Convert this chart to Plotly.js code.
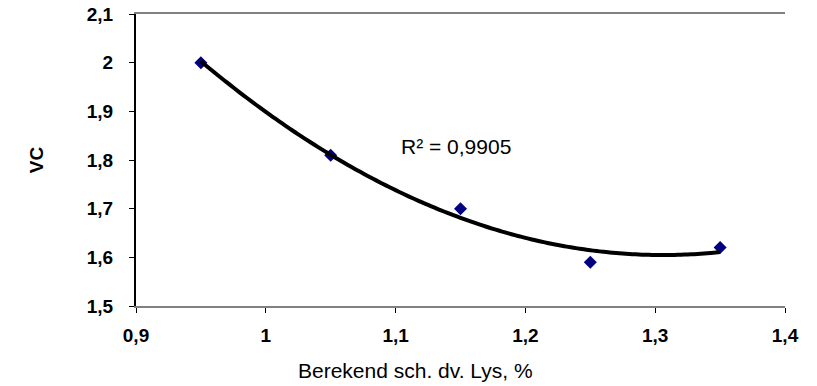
<!DOCTYPE html>
<html>
<head>
<meta charset="utf-8">
<script src="https://cdn.plot.ly/plotly-3.0.1.min.js"></script>
<style>
  html, body { margin: 0; padding: 0; background: #fff; }
  #chart { width: 817px; height: 386px; }
</style>
</head>
<body>
<div id="chart"></div>
<script>
// Measured points
const lysPct = [0.95, 1.05, 1.15, 1.25, 1.35];
const vcValues = [2.00, 1.81, 1.70, 1.59, 1.62];
const r2Label = 'R² = 0,9905';
const xTitle = 'Berekend sch. dv. Lys, %';
const yTitle = 'VC';

// Second-order least-squares trend line through the measured points
function quadFit(xs, ys) {
  let s = [0, 0, 0, 0, 0], t = [0, 0, 0];
  for (let i = 0; i < xs.length; i++) {
    let p = 1;
    for (let k = 0; k < 5; k++) { s[k] += p; if (k < 3) t[k] += p * ys[i]; p *= xs[i]; }
  }
  const M = [[s[0], s[1], s[2], t[0]], [s[1], s[2], s[3], t[1]], [s[2], s[3], s[4], t[2]]];
  for (let c = 0; c < 3; c++) {
    for (let r = c + 1; r < 3; r++) {
      const f = M[r][c] / M[c][c];
      for (let k = c; k < 4; k++) M[r][k] -= f * M[c][k];
    }
  }
  const coef = [0, 0, 0];
  for (let r = 2; r >= 0; r--) {
    let v = M[r][3];
    for (let k = r + 1; k < 3; k++) v -= M[r][k] * coef[k];
    coef[r] = v / M[r][r];
  }
  return coef;
}
const coef = quadFit(lysPct, vcValues);
const trendX = [], trendY = [];
const x0 = lysPct[0], x1 = lysPct[lysPct.length - 1];
for (let i = 0; i <= 80; i++) {
  const x = x0 + (x1 - x0) * i / 80;
  trendX.push(x);
  trendY.push(coef[0] + coef[1] * x + coef[2] * x * x);
}

const font = 'Liberation Sans, Arial, sans-serif';

const traces = [
  {
    x: lysPct, y: vcValues, type: 'scatter', mode: 'markers',
    marker: { symbol: 'diamond', size: 10, color: '#000080' },
    hoverinfo: 'x+y'
  },
  {
    x: trendX, y: trendY, type: 'scatter', mode: 'lines',
    line: { color: '#000000', width: 4, shape: 'spline' },
    hoverinfo: 'skip'
  }
];

const layout = {
  width: 817, height: 386,
  margin: { l: 136, r: 32, t: 14, b: 80 },
  paper_bgcolor: '#ffffff', plot_bgcolor: '#ffffff',
  separators: ',.',
  showlegend: false,
  font: { family: font, color: '#000000', size: 18 },
  xaxis: {
    range: [0.9, 1.4], dtick: 0.1, tick0: 0.9,
    showgrid: false, zeroline: false,
    showline: true, linecolor: '#808080', linewidth: 2, mirror: true,
    ticks: 'outside', ticklen: 5, tickcolor: '#000000', tickwidth: 1,
    ticklabelstandoff: 6,
    tickfont: { family: font, size: 19, color: '#000000', weight: 'bold' }
  },
  yaxis: {
    range: [1.5, 2.1], dtick: 0.1, tick0: 1.5,
    showgrid: false, zeroline: false,
    showline: true, linecolor: '#000000', linewidth: 2,
    ticks: 'outside', ticklen: 5, tickcolor: '#000000', tickwidth: 1,
    ticklabelstandoff: 12,
    tickfont: { family: font, size: 19, color: '#000000', weight: 'bold' },
    title: { text: yTitle, font: { family: font, size: 19, color: '#000000', weight: 'bold' }, standoff: 38 }
  },
  annotations: [
    {
      x: 1.103, y: 1.827, xref: 'x', yref: 'y', xanchor: 'left', yanchor: 'middle',
      text: r2Label, showarrow: false,
      font: { family: font, size: 21, color: '#000000' }
    },
    {
      // axis title, set left of the plot centre
      x: 0.4314, y: -0.222, xref: 'paper', yref: 'paper', xanchor: 'center', yanchor: 'middle',
      text: xTitle, showarrow: false,
      font: { family: font, size: 21, color: '#000000' }
    }
  ]
};

Plotly.newPlot('chart', traces, layout, { displayModeBar: false, staticPlot: true });
</script>
</body>
</html>
